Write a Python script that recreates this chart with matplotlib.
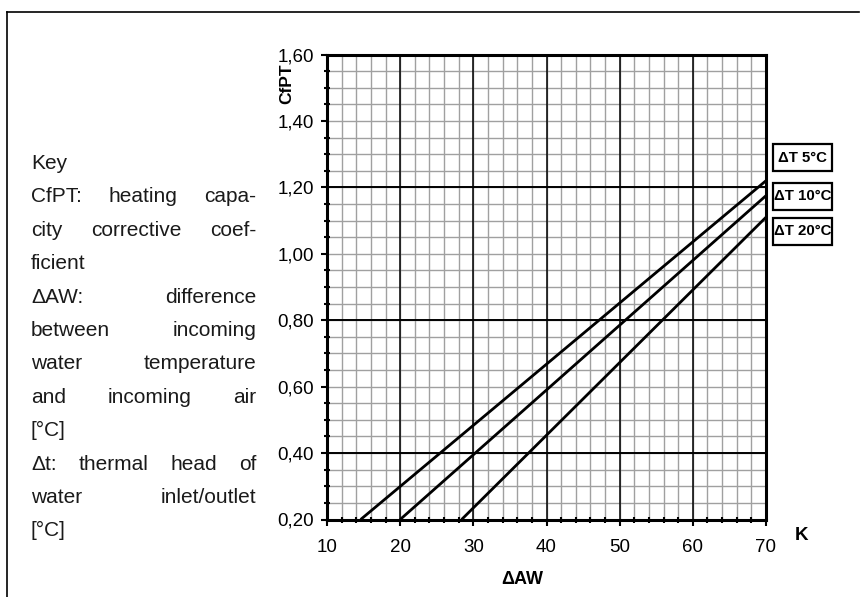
import matplotlib
matplotlib.use("Agg")
import matplotlib.pyplot as plt
from matplotlib.patches import Rectangle
from matplotlib.lines import Line2D
from matplotlib.ticker import MultipleLocator

plt.rcParams['font.family'] = ['Liberation Sans', 'DejaVu Sans']

# ---------------- data ----------------
series_labels = ["ΔT 5°C", "ΔT 10°C", "ΔT 20°C"]
daw_5 = [14.6, 70.0]
cfpt_5 = [0.20, 1.22]
daw_10 = [20.0, 70.0]
cfpt_10 = [0.20, 1.175]
daw_20 = [28.4, 70.0]
cfpt_20 = [0.20, 1.11]

x_ticks = [10, 20, 30, 40, 50, 60, 70]
y_ticks = [0.20, 0.40, 0.60, 0.80, 1.00, 1.20, 1.40, 1.60]
y_tick_labels = ["0,20", "0,40", "0,60", "0,80", "1,00", "1,20", "1,40", "1,60"]
x_major_lines = [20, 30, 40, 50, 60]
y_major_lines = [0.40, 0.80, 1.20]

key_lines = [
    ("Key", False),
    ("CfPT:  heating capa-", True),
    ("city corrective coef-", True),
    ("ficient", False),
    ("ΔAW: difference", True),
    ("between incoming", True),
    ("water temperature", True),
    ("and incoming air", True),
    ("[°C]", False),
    ("Δt: thermal head of", True),
    ("water inlet/outlet", True),
    ("[°C]", False),
]

# ---------------- figure ----------------
W, H = 867, 597
fig = plt.figure(figsize=(W / 100, H / 100), dpi=100)
fig.patch.set_facecolor("white")

def fx(px):
    return px / W

def fy(py):
    return 1 - py / H

ax = fig.add_axes([fx(327), fy(519.5), fx(766) - fx(327), fy(54.5) - fy(519.5)])
ax.set_xlim(10, 70)
ax.set_ylim(0.20, 1.60)

ax.xaxis.set_minor_locator(MultipleLocator(2))
ax.yaxis.set_minor_locator(MultipleLocator(0.05))
ax.grid(which="minor", color="#a0a0a0", linewidth=1.0)
ax.grid(which="major", color="#a0a0a0", linewidth=1.0)
for xv in x_major_lines:
    ax.axvline(xv, color="black", linewidth=1.1, zorder=2)
for yv in y_major_lines:
    ax.axhline(yv, color="black", linewidth=1.4, zorder=2)
ax.set_axisbelow(True)

for xs, ys in [(daw_5, cfpt_5), (daw_10, cfpt_10), (daw_20, cfpt_20)]:
    ax.plot(xs, ys, color="black", linewidth=2.0, solid_capstyle="butt", zorder=3)

ax.set_xticks(x_ticks)
ax.set_xticklabels([str(v) for v in x_ticks])
ax.set_yticks(y_ticks)
ax.set_yticklabels(y_tick_labels)
ax.tick_params(axis="both", which="major", labelsize=13.5, length=4, width=1.5,
               direction="out", color="black")
ax.tick_params(axis="both", which="minor", length=4, width=1.5, direction="inout",
               color="black")
ax.tick_params(axis="x", which="major", pad=10.0)
ax.tick_params(axis="y", which="major", pad=5.5)
for sp in ax.spines.values():
    sp.set_linewidth(2.2)
    sp.set_color("black")

# axis labels
fig.text(fx(287), fy(84), "CfPT", rotation=90, ha="center", va="center",
         fontsize=12.5, fontweight="bold")
fig.text(fx(795), fy(536), "K", ha="left", va="center", fontsize=13.5, fontweight="bold")
fig.text(fx(522), fy(580), "ΔAW", ha="center", va="center", fontsize=13, fontweight="bold")

# series label boxes
box_tops = [144, 183, 218]
for lab, top in zip(series_labels, box_tops):
    rect = Rectangle((fx(773), fy(top + 26.5)), fx(832) - fx(773), fy(top) - fy(top + 26.5),
                     transform=fig.transFigure, fill=False, edgecolor="black",
                     linewidth=1.6)
    fig.patches.append(rect)
    fig.text(fx(802.5), fy(top + 13.5), lab, ha="center", va="center",
             fontsize=10.8, fontweight="bold")

# outer frame
fig.add_artist(Line2D([fx(7), fx(859)], [fy(12), fy(12)], transform=fig.transFigure,
                      color="black", linewidth=1.2))
fig.add_artist(Line2D([fx(7), fx(7)], [fy(12), fy(597)], transform=fig.transFigure,
                      color="black", linewidth=1.2))

# key text (justified)
renderer = fig.canvas.get_renderer()
key_fs = 15
x0, x1 = 31, 256
base0 = 169
step = 33.4

def word_width(w):
    t = fig.text(0, 0, w, fontsize=key_fs)
    bb = t.get_window_extent(renderer)
    t.remove()
    return bb.width

for i, (line, just) in enumerate(key_lines):
    yb = base0 + i * step
    words = line.split()
    if not just or len(words) == 1:
        fig.text(fx(x0), fy(yb), line, ha="left", va="baseline", fontsize=key_fs,
                 color="#1a1a1a")
    else:
        widths = [word_width(w) for w in words]
        gap = (x1 - x0 - sum(widths)) / (len(words) - 1)
        xc = x0
        for w, wd in zip(words, widths):
            fig.text(fx(xc), fy(yb), w, ha="left", va="baseline", fontsize=key_fs,
                     color="#1a1a1a")
            xc += wd + gap

fig.savefig("out.png", dpi=100, facecolor="white")
